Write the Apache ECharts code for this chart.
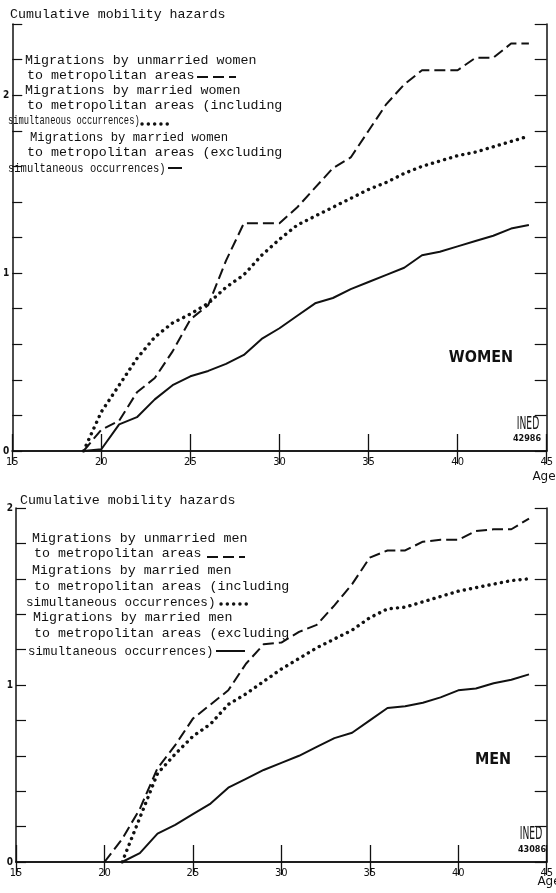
<!DOCTYPE html>
<html><head><meta charset="utf-8">
<script src="https://cdn.jsdelivr.net/npm/echarts@6/dist/echarts.min.js"></script>
<style>html,body{margin:0;padding:0;background:#fff}#c{width:556px;height:893px}</style>
</head><body><div id="c"></div>
<script>
// ---- data ----
const womenAges = [19,20,21,22,23,24,25,26,27,28,29,30,31,32,33,34,35,36,37,38,39,40,41,42,43,44];
const womenUnmarried = [0,0.12,0.17,0.33,0.41,0.56,0.74,0.82,1.07,1.28,1.28,1.28,1.37,1.48,1.59,1.65,1.80,1.95,2.06,2.14,2.14,2.14,2.21,2.21,2.29,2.29];
const womenMarriedIncl = [0,0.22,0.37,0.52,0.64,0.72,0.77,0.83,0.92,0.99,1.10,1.19,1.27,1.32,1.37,1.42,1.47,1.51,1.56,1.60,1.63,1.66,1.68,1.71,1.74,1.77];
const womenMarriedExcl = [0,0.01,0.15,0.19,0.29,0.37,0.42,0.45,0.49,0.54,0.63,0.69,0.76,0.83,0.86,0.91,0.95,0.99,1.03,1.10,1.12,1.15,1.18,1.21,1.25,1.27];

const menAges = [20,21,22,23,24,25,26,27,28,29,30,31,32,33,34,35,36,37,38,39,40,41,42,43,44];
const menUnmarried = [0,0.13,0.30,0.53,0.66,0.81,0.89,0.97,1.12,1.23,1.24,1.30,1.34,1.45,1.57,1.72,1.76,1.76,1.81,1.82,1.82,1.87,1.88,1.88,1.94];
const menMarriedIncl = [null,0,0.25,0.50,0.61,0.71,0.78,0.89,0.95,1.02,1.09,1.15,1.21,1.26,1.31,1.38,1.43,1.44,1.47,1.50,1.53,1.55,1.57,1.59,1.60];
const menMarriedExcl = [null,0,0.05,0.16,0.21,0.27,0.33,0.42,0.47,0.52,0.56,0.60,0.65,0.70,0.73,0.80,0.87,0.88,0.90,0.93,0.97,0.98,1.01,1.03,1.06];

const xTicks = [15,20,25,30,35,40,45];
const womenYMax = 2.4, menYMax = 2;

// ---- helpers ----
const pairs = (xs, ys) => xs.map((x, i) => [x, ys[i]]);
const INK = '#111';
const MONO = '"Liberation Mono","DejaVu Sans Mono",monospace';
const COND = '"DejaVu Sans Condensed","Liberation Sans Narrow","DejaVu Sans",sans-serif';
const dashed = {color: INK, width: 2, type: [11, 5]};
const dotted = {color: INK, width: 3.4, type: [0.1, 6.2], cap: 'round'};
const solid  = {color: INK, width: 2};

function xAxes(g) {
  return [
    {gridIndex: g, type: 'value', min: xTicks[0], max: xTicks[xTicks.length-1], interval: 5,
     axisLine: {show: true, lineStyle: {color: INK, width: 1.5}},
     axisTick: {show: true, inside: true, length: 17, lineStyle: {color: INK, width: 1.3}},
     axisLabel: {color: INK, fontFamily: COND, fontSize: 11, margin: 6},
     splitLine: {show: false}},
    {gridIndex: g, type: 'value', position: 'top', min: xTicks[0], max: xTicks[xTicks.length-1], interval: 5,
     axisLine: {show: true, lineStyle: {color: INK, width: 1.5}},
     axisTick: {show: true, inside: true, length: 13, lineStyle: {color: INK, width: 1.3}},
     axisLabel: {show: false}, splitLine: {show: false}}
  ];
}
function yAxes(g, max) {
  const fmt = v => Math.abs(v - Math.round(v)) < 1e-6 ? String(Math.round(v)) : '';
  return [
    {gridIndex: g, type: 'value', min: 0, max: max, interval: 0.2,
     axisLine: {show: true, lineStyle: {color: INK, width: 1.5}},
     axisTick: {show: true, inside: true, length: 10, lineStyle: {color: INK, width: 1.2}},
     axisLabel: {color: INK, fontFamily: COND, fontWeight: 'bold', fontSize: 10, margin: 3, formatter: fmt},
     splitLine: {show: false}},
    {gridIndex: g, type: 'value', position: 'right', min: 0, max: max, interval: 0.2,
     axisLine: {show: true, lineStyle: {color: INK, width: 1.5}},
     axisTick: {show: true, inside: true, length: 12, lineStyle: {color: INK, width: 1.2}},
     axisLabel: {show: false}, splitLine: {show: false}}
  ];
}
function line(name, xi, yi, data, ls) {
  return {name, type: 'line', xAxisIndex: xi, yAxisIndex: yi, data, symbol: 'none',
          lineStyle: ls, itemStyle: {color: INK}, connectNulls: false, animation: false, silent: true};
}
function txt(s, x, y, font, align, sx) {
  return {type: 'text', x: x, y: y, scaleX: sx || 1, silent: true,
          style: {text: s, x: 0, y: 0, font: font, fill: INK, align: align || 'left', verticalAlign: 'middle',
                  textAlign: align || 'left', textVerticalAlign: 'middle'}};
}
function seg(x1, y1, x2, y2, ls) {
  return {type: 'line', silent: true, shape: {x1, y1, x2, y2},
          style: {stroke: INK, lineWidth: ls.width, lineDash: Array.isArray(ls.type) ? ls.type : null, lineCap: ls.cap || 'butt'}};
}

const LF = '13.3px ' + MONO;
const legendTop = [
  txt('Migrations by unmarried women', 25, 60, LF),
  txt('to metropolitan areas', 27, 75, LF),
  seg(197, 77, 236, 77, dashed),
  txt('Migrations by married women', 25, 90, LF),
  txt('to metropolitan areas (including', 27, 105, LF),
  txt('simultaneous occurrences)', 8, 120, LF, null, 0.66),
  seg(142, 124, 168, 124, dotted),
  txt('Migrations by married women', 30, 137, LF, null, 0.92),
  txt('to metropolitan areas (excluding', 27, 152, LF),
  txt('simultaneous occurrences)', 8, 168, LF, null, 0.79),
  seg(168, 168, 182, 168, solid)
];
const legendBottom = [
  txt('Migrations by unmarried men', 32, 538, LF),
  txt('to metropolitan areas', 34, 553, LF),
  seg(207, 557, 245, 557, dashed),
  txt('Migrations by married men', 32, 570, LF),
  txt('to metropolitan areas (including', 34, 586, LF),
  txt('simultaneous occurrences)', 26, 602, LF, null, 0.95),
  seg(221, 604, 247, 604, dotted),
  txt('Migrations by married men', 33, 617, LF),
  txt('to metropolitan areas (excluding', 34, 633, LF),
  txt('simultaneous occurrences)', 28, 651, LF, null, 0.93),
  seg(216, 651, 245, 651, solid)
];

const option = {
  backgroundColor: '#fff',
  animation: false,
  grid: [
    {left: 12, top: 24, width: 536, height: 427, show: false},
    {left: 16, top: 508, width: 536, height: 354, show: false}
  ],
  xAxis: [...xAxes(0), ...xAxes(1)],
  yAxis: [...yAxes(0, womenYMax), ...yAxes(1, menYMax)],
  series: [
    line('Migrations by unmarried women to metropolitan areas', 0, 0, pairs(womenAges, womenUnmarried), dashed),
    line('Migrations by married women to metropolitan areas (including simultaneous occurrences)', 0, 0, pairs(womenAges, womenMarriedIncl), dotted),
    line('Migrations by married women to metropolitan areas (excluding simultaneous occurrences)', 0, 0, pairs(womenAges, womenMarriedExcl), solid),
    line('Migrations by unmarried men to metropolitan areas', 2, 2, pairs(menAges, menUnmarried), dashed),
    line('Migrations by married men to metropolitan areas (including simultaneous occurrences)', 2, 2, pairs(menAges, menMarriedIncl), dotted),
    line('Migrations by married men to metropolitan areas (excluding simultaneous occurrences)', 2, 2, pairs(menAges, menMarriedExcl), solid)
  ],
  graphic: [
    txt('Cumulative mobility hazards', 10, 14, LF),
    txt('Cumulative mobility hazards', 20, 500, LF),
    ...legendTop, ...legendBottom,
    txt('WOMEN', 481, 358, 'bold 16px ' + COND, 'center'),
    txt('MEN', 493, 760, 'bold 16px ' + COND, 'center'),
    txt('INED', 528, 425, '17px ' + COND, 'center', 0.6),
    txt('42986', 527, 439, 'bold 9px ' + COND, 'center'),
    txt('INED', 531, 835, '17px ' + COND, 'center', 0.6),
    txt('43086', 532, 850, 'bold 9px ' + COND, 'center'),
    txt('Age', 544, 477, '12px "DejaVu Sans",sans-serif', 'center'),
    txt('Age', 549, 882, '12px "DejaVu Sans",sans-serif', 'center')
  ]
};
const chart = echarts.init(document.getElementById('c'), null, {renderer: 'canvas'});
chart.setOption(option);
</script></body></html>
